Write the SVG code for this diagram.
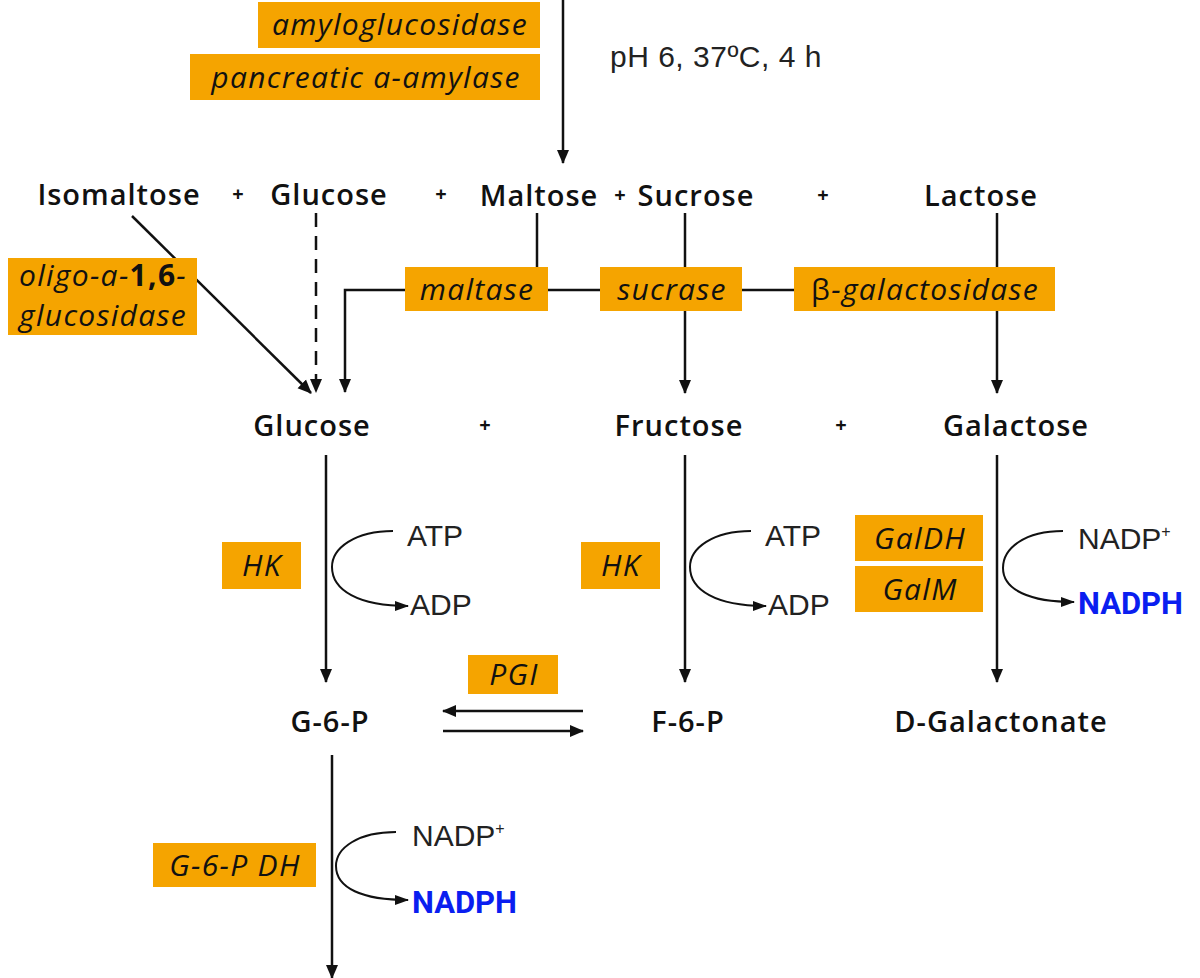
<svg xmlns="http://www.w3.org/2000/svg" width="1200" height="978" viewBox="0 0 1200 978">
<style>
.bg{fill:#fff}
.enz{fill:#F5A400}
.et{font-family:"Open Sans",Lato,sans-serif;font-style:italic;font-size:30px;letter-spacing:1.3px;fill:#111;text-anchor:middle}
.met{font-family:"Open Sans",Lato,sans-serif;font-weight:600;font-size:29px;letter-spacing:1px;fill:#111;text-anchor:middle}
.plus{font-family:"Open Sans",sans-serif;font-weight:bold;font-size:20px;fill:#111;text-anchor:middle}
.co{font-family:"Liberation Sans",Arial,sans-serif;font-size:30px;fill:#222}
.nadph{font-family:Roboto,"Liberation Sans",sans-serif;font-weight:bold;font-size:31px;fill:#0A1EF0}
.ln{stroke:#111;stroke-width:2.5;fill:none}
.cv{stroke:#111;stroke-width:2;fill:none}
</style>
<defs>
<marker id="ah" markerUnits="userSpaceOnUse" markerWidth="14" markerHeight="14" refX="13" refY="7" orient="auto">
<path d="M0,1 L14,7 L0,13 z" fill="#111"/>
</marker>
<marker id="as" markerUnits="userSpaceOnUse" markerWidth="14" markerHeight="12" refX="13" refY="6" orient="auto">
<path d="M0,1 L14,6 L0,11 z" fill="#111"/>
</marker>
</defs>
<rect class="bg" width="1200" height="978"/>

<g id="connectors">
<line class="ln" x1="563" y1="0" x2="563" y2="163" marker-end="url(#ah)"/>
<line class="ln" x1="132" y1="216" x2="311" y2="393" marker-end="url(#ah)"/>
<line class="ln" x1="316" y1="213" x2="316" y2="392" stroke-dasharray="14,9" marker-end="url(#ah)"/>
<polyline class="ln" points="405,290 345,290 345,392" marker-end="url(#ah)"/>
<line class="ln" x1="537" y1="213" x2="537" y2="267"/>
<line class="ln" x1="548" y1="290" x2="600" y2="290"/>
<line class="ln" x1="742" y1="290" x2="794" y2="290"/>
<line class="ln" x1="685" y1="213" x2="685" y2="267"/>
<line class="ln" x1="685" y1="311" x2="685" y2="393" marker-end="url(#ah)"/>
<line class="ln" x1="997" y1="213" x2="997" y2="267"/>
<line class="ln" x1="997" y1="311" x2="997" y2="393" marker-end="url(#ah)"/>
<line class="ln" x1="326" y1="455" x2="326" y2="682" marker-end="url(#ah)"/>
<line class="ln" x1="685" y1="455" x2="685" y2="682" marker-end="url(#ah)"/>
<line class="ln" x1="997" y1="455" x2="997" y2="682" marker-end="url(#ah)"/>
<line class="ln" x1="583" y1="711" x2="443" y2="711" marker-end="url(#ah)"/>
<line class="ln" x1="443" y1="731" x2="583" y2="731" marker-end="url(#ah)"/>
<line class="ln" x1="332" y1="755" x2="332" y2="978" marker-end="url(#ah)"/>
<path class="cv" d="M393,531 C355,531 332,548 332,567 C332,590 358,606 408,606" marker-end="url(#as)"/>
<path class="cv" d="M751,531 C713,531 690,548 690,567 C690,590 716,606 766,606" marker-end="url(#as)"/>
<path class="cv" d="M1063,531 C1025,531 1003,548 1003,568 C1003,590 1030,602 1074,602" marker-end="url(#as)"/>
<path class="cv" d="M396,832 C358,832 336,848 336,866 C336,888 362,900 408,900" marker-end="url(#as)"/>
</g>

<g id="amyloglucosidase"><rect class="enz" x="258" y="2" width="282" height="46"/><text class="et" x="400" y="35">amyloglucosidase</text></g>
<g id="amylase"><rect class="enz" x="190" y="54" width="350" height="46"/><text class="et" x="366" y="88">pancreatic a-amylase</text></g>
<g id="conditions"><text class="co" x="610" y="67" font-size="31" letter-spacing="0.5" fill="#333">pH 6, 37ºC, 4 h</text></g>

<g id="isomaltose"><text class="met" x="119" y="205">Isomaltose</text></g>
<text class="plus" x="238" y="201">+</text>
<g id="glucose1"><text class="met" x="329" y="205">Glucose</text></g>
<text class="plus" x="441" y="201">+</text>
<g id="maltose"><text class="met" x="539" y="206">Maltose</text></g>
<text class="plus" x="620" y="202">+</text>
<g id="sucrose"><text class="met" x="696" y="206">Sucrose</text></g>
<text class="plus" x="823" y="202">+</text>
<g id="lactose"><text class="met" x="981" y="206">Lactose</text></g>

<g id="oligo"><rect class="enz" x="8" y="258" width="189" height="77"/>
<text class="et" x="103" y="286" font-size="25" letter-spacing="1">oligo-a-<tspan font-weight="bold" font-style="normal">1,6</tspan>-</text>
<text class="et" x="103" y="326" font-size="25" letter-spacing="1.5">glucosidase</text></g>
<g id="maltase"><rect class="enz" x="405" y="267" width="143" height="44"/><text class="et" x="477" y="300">maltase</text></g>
<g id="sucrase"><rect class="enz" x="600" y="267" width="142" height="44"/><text class="et" x="672" y="300">sucrase</text></g>
<g id="bgal"><rect class="enz" x="794" y="267" width="261" height="44"/><text class="et" x="925" y="300" letter-spacing="0.8"><tspan font-style="normal">β</tspan>-galactosidase</text></g>

<g id="glucose2"><text class="met" x="312" y="436">Glucose</text></g>
<text class="plus" x="485" y="432">+</text>
<g id="fructose"><text class="met" x="679" y="436">Fructose</text></g>
<text class="plus" x="841" y="432">+</text>
<g id="galactose"><text class="met" x="1016" y="436">Galactose</text></g>

<g id="hk1"><rect class="enz" x="222" y="542" width="79" height="47"/><text class="et" x="262" y="576">HK</text></g>
<g id="atp1"><text class="co" x="407" y="546">ATP</text><text class="co" x="410" y="615">ADP</text></g>
<g id="hk2"><rect class="enz" x="581" y="542" width="79" height="47"/><text class="et" x="621" y="576">HK</text></g>
<g id="atp2"><text class="co" x="765" y="546">ATP</text><text class="co" x="768" y="615">ADP</text></g>
<g id="galdh"><rect class="enz" x="855" y="515" width="128" height="46"/><text class="et" x="920" y="549">GalDH</text></g>
<g id="galm"><rect class="enz" x="855" y="566" width="128" height="46"/><text class="et" x="920" y="600">GalM</text></g>
<g id="nadp2"><text class="co" x="1078" y="549">NADP<tspan font-size="16" dy="-12">+</tspan></text><text class="nadph" x="1078" y="614">NADPH</text></g>

<g id="pgi"><rect class="enz" x="468" y="655" width="90" height="39"/><text class="et" x="514" y="685">PGI</text></g>
<g id="g6p"><text class="met" x="330" y="732">G-6-P</text></g>
<g id="f6p"><text class="met" x="688" y="732">F-6-P</text></g>
<g id="dgal"><text class="met" x="1001" y="732" letter-spacing="1.5">D-Galactonate</text></g>

<g id="g6pdh"><rect class="enz" x="153" y="843" width="163" height="44"/><text class="et" x="235" y="876" letter-spacing="0.5">G-6-P DH</text></g>
<g id="nadp1"><text class="co" x="412" y="846">NADP<tspan font-size="16" dy="-12">+</tspan></text><text class="nadph" x="412" y="913">NADPH</text></g>
</svg>
